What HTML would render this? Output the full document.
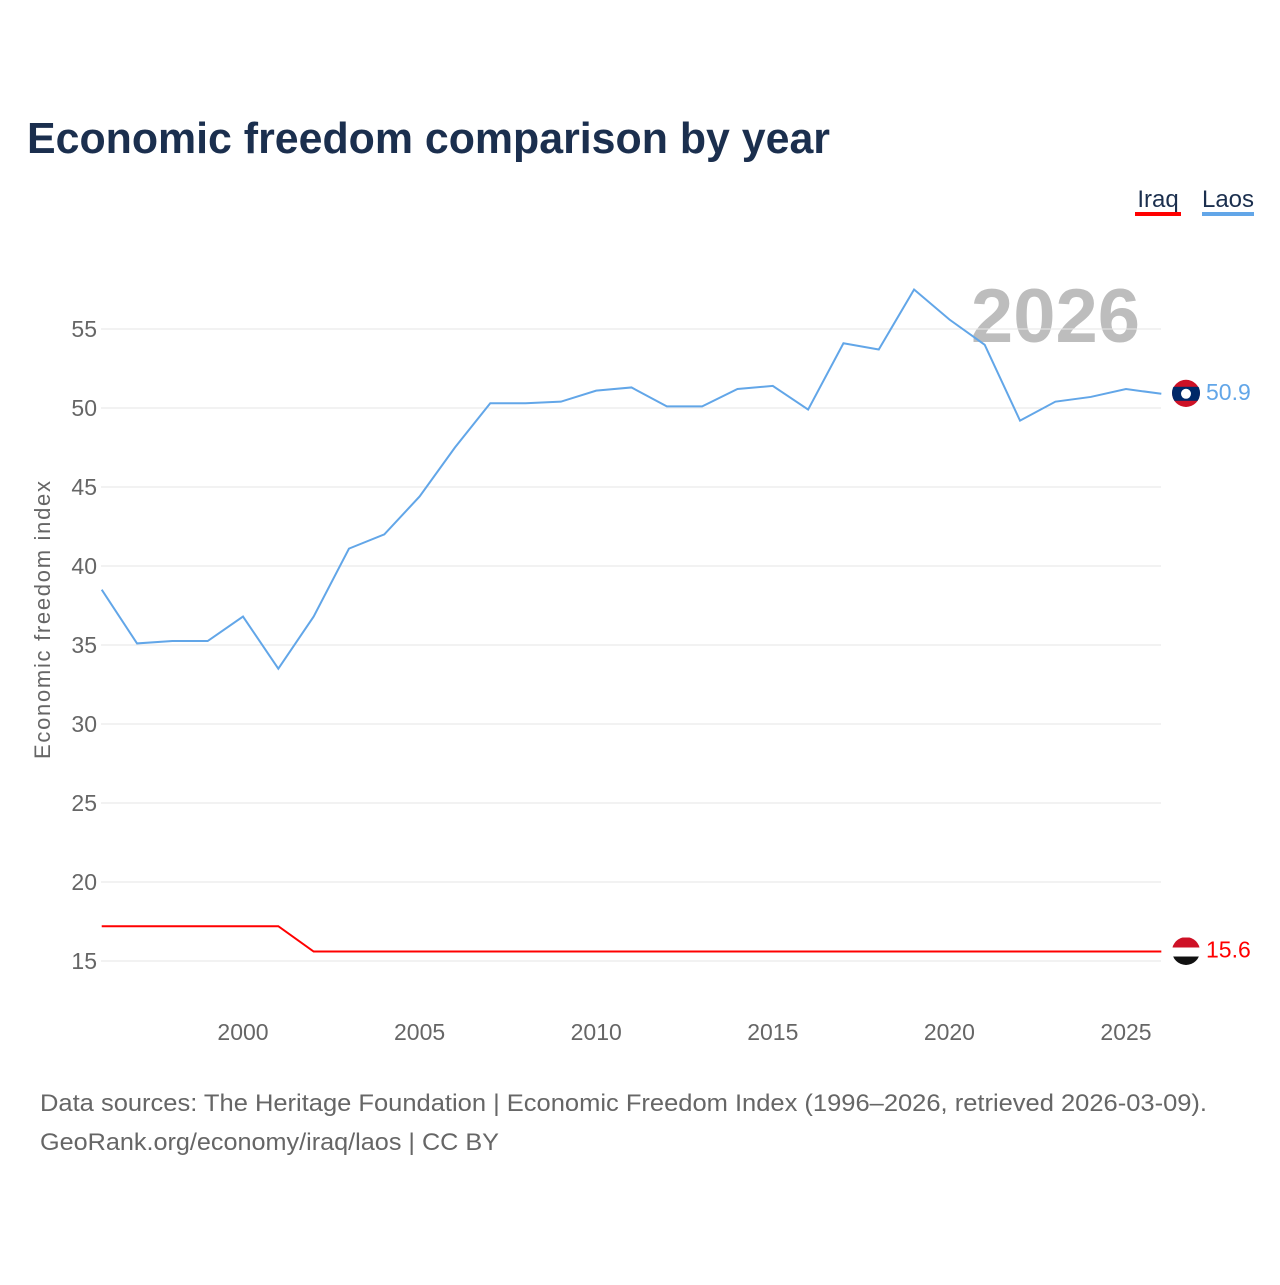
<!DOCTYPE html>
<html><head><meta charset="utf-8"><style>
body{margin:0;width:1280px;height:1280px;background:#fff;font-family:"Liberation Sans",sans-serif;}
</style></head><body>
<svg id="c" width="1280" height="1280" xmlns="http://www.w3.org/2000/svg">
<defs><clipPath id="fc1"><circle cx="1186" cy="393" r="14"/></clipPath><clipPath id="fc2"><circle cx="1186" cy="951" r="14"/></clipPath></defs>
<text x="27" y="153" font-size="44" font-weight="bold" fill="#1b2f4e" textLength="803" lengthAdjust="spacingAndGlyphs">Economic freedom comparison by year</text>
<g><text x="1158" y="207" font-size="24" fill="#1b2f4e" text-anchor="middle">Iraq</text><rect x="1135" y="212" width="46" height="4" fill="#ff0000"/></g>
<g><text x="1228" y="207" font-size="24" fill="#1b2f4e" text-anchor="middle">Laos</text><rect x="1202" y="212" width="52" height="4" fill="#62a6e8"/></g>
<text x="1140" y="342" font-size="76" font-weight="bold" fill="#bdbdbd" text-anchor="end">2026</text>
<g id="grid"></g><g id="series"></g>
<text transform="translate(50,620) rotate(-90)" font-size="22" fill="#666" text-anchor="middle" textLength="278">Economic freedom index</text>
<text x="40" y="1111" font-size="24" fill="#666" textLength="1167" lengthAdjust="spacingAndGlyphs">Data sources: The Heritage Foundation | Economic Freedom Index (1996–2026, retrieved 2026-03-09).</text>
<text x="40" y="1150" font-size="24" fill="#666" textLength="459" lengthAdjust="spacingAndGlyphs">GeoRank.org/economy/iraq/laos | CC BY</text>
</svg>
<script>
const years=[1996,1997,1998,1999,2000,2001,2002,2003,2004,2005,2006,2007,2008,2009,2010,2011,2012,2013,2014,2015,2016,2017,2018,2019,2020,2021,2022,2023,2024,2025,2026];
const laos=[38.5,35.1,35.25,35.25,36.8,33.5,36.8,41.1,42.0,44.4,47.5,50.3,50.3,50.4,51.1,51.3,50.1,50.1,51.2,51.4,49.9,54.1,53.7,57.5,55.6,54.0,49.2,50.4,50.7,51.2,50.9];
const iraq=[17.2,17.2,17.2,17.2,17.2,17.2,15.6,15.6,15.6,15.6,15.6,15.6,15.6,15.6,15.6,15.6,15.6,15.6,15.6,15.6,15.6,15.6,15.6,15.6,15.6,15.6,15.6,15.6,15.6,15.6,15.6];
const yTicks=[15,20,25,30,35,40,45,50,55];
const xTicks=[2000,2005,2010,2015,2020,2025];
const NS="http://www.w3.org/2000/svg";
const x=v=>243+(v-2000)*35.32;
const y=v=>961-(v-15)*15.8;
function mk(t,a,p){const e=document.createElementNS(NS,t);for(const k in a)e.setAttribute(k,a[k]);p.appendChild(e);return e;}
const g=document.getElementById('grid'),s=document.getElementById('series');
yTicks.forEach(v=>{const l=mk('line',{x1:101,x2:1161,y1:y(v),y2:y(v),stroke:'#e6e6e6'},g);


const t=mk('text',{x:97,y:y(v)+8,'font-size':23,fill:'#666','text-anchor':'end'},g);t.textContent=v;

});
xTicks.forEach(v=>{const t=mk('text',{x:x(v),y:1040,'font-size':23,fill:'#666','text-anchor':'middle'},g);t.textContent=v;

});
function line(d,c,n,clip){const p=mk('polyline',{points:d.map((v,i)=>x(years[i])+','+y(v)).join(' '),fill:'none',stroke:c,'stroke-width':2},s);


const L=d[d.length-1];const cy=y(L);
const fg=mk('g',{'clip-path':'url(#'+clip+')'},s);


if(c!=='#ff0000'){mk('circle',{cx:1186,cy:cy,r:14,fill:'#ce1126'},fg);mk('rect',{x:1172,y:cy-7,width:28,height:14,fill:'#002868'},fg);mk('circle',{cx:1186,cy:cy,r:5,fill:'#fff'},fg);}
else{mk('rect',{x:1172,y:cy-14,width:28,height:10,fill:'#ce1126'},fg);mk('rect',{x:1172,y:cy-4,width:28,height:9,fill:'#fff'},fg);mk('rect',{x:1172,y:cy+5,width:28,height:10,fill:'#111'},fg);}
const t=mk('text',{x:1206,y:cy+6,'font-size':23,fill:c},s);t.textContent=L;

}
line(iraq,'#ff0000','iraq-line','fc2');
line(laos,'#62a6e8','laos-line','fc1');
</script>
</body></html>
